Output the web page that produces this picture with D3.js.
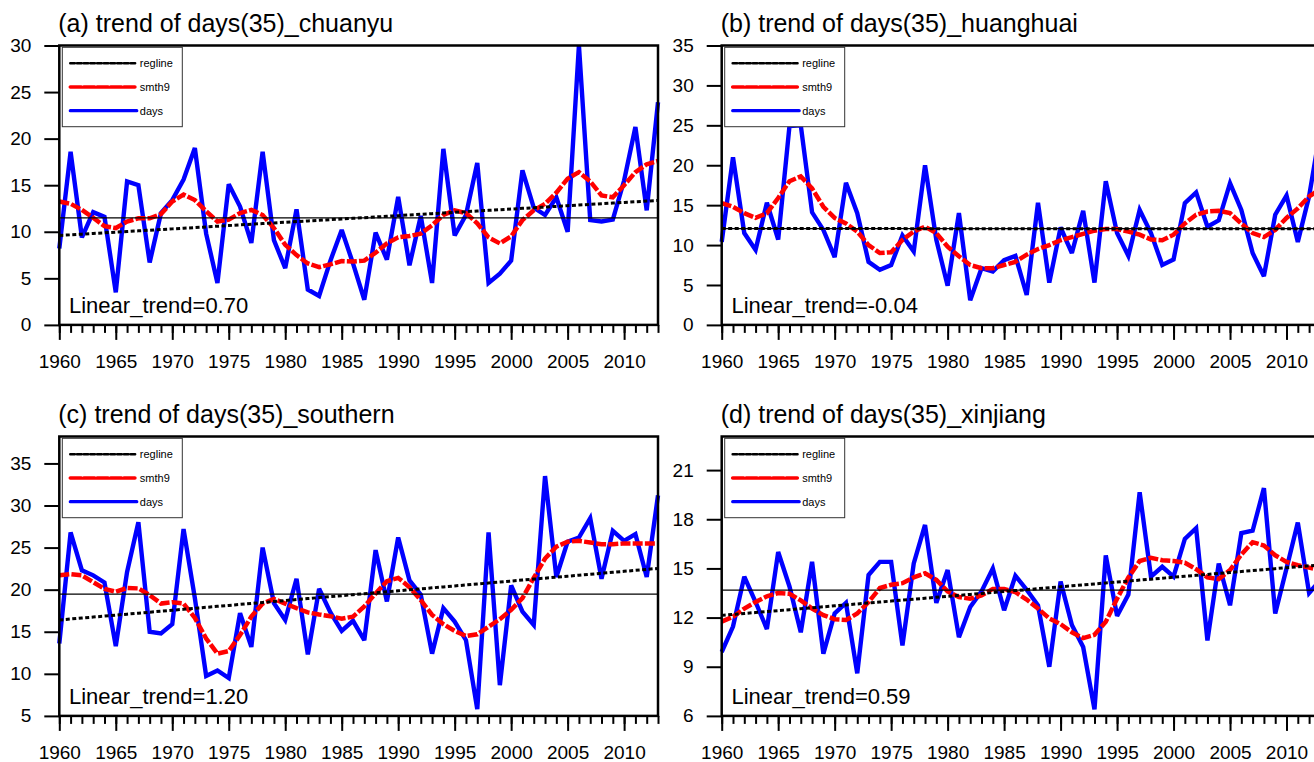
<!DOCTYPE html>
<html>
<head>
<meta charset="utf-8">
<script src="https://cdn.jsdelivr.net/npm/d3@7"></script>
<style>
  body { margin: 0; background: #fff; }
  svg { display: block; }
</style>
</head>
<body>
<div id="chart"></div>
<script>
// ---- data ----
const years = d3.range(1960, 2014);
const xTickLabels = [1960, 1965, 1970, 1975, 1980, 1985, 1990, 1995, 2000, 2005, 2010];

const daysA = [8.2, 18.6, 9.4, 12.1, 11.6, 3.5, 15.4, 15.0, 6.7, 12.0,
  13.4, 15.6, 19.0, 9.8, 4.5, 15.1, 12.7, 8.8, 18.6, 9.1,
  6.1, 12.4, 3.8, 3.1, 6.9, 10.2, 6.6, 2.7, 9.9, 7.0,
  13.75, 6.4, 11.7, 4.5, 18.9, 9.6, 11.8, 17.4, 4.5, 5.5,
  6.9, 16.6, 12.6, 11.8, 13.7, 10.0, 30.0, 11.25, 11.1, 11.3,
  15.5, 21.25, 12.3, 23.9];
const smthA = [13.25, 13.0, 12.35, 11.5, 10.6, 10.4, 11.1, 11.45, 11.45, 11.9,
  13.25, 14.0, 13.4, 12.2, 11.1, 11.3, 12.0, 12.35, 11.8, 10.4,
  8.6, 7.5, 6.6, 6.2, 6.5, 6.85, 6.8, 6.9, 7.75, 8.75,
  9.4, 9.55, 9.8, 10.7, 11.8, 12.3, 12.0, 10.9, 9.4, 8.75,
  9.5, 11.25, 12.3, 13.0, 14.2, 15.7, 16.4, 15.4, 13.9, 13.7,
  15.0, 16.4, 17.25, 17.6];

const daysB = [10.4, 21.0, 11.5, 9.4, 15.3, 10.7, 24.9, 25.0, 14.1, 11.9,
  8.5, 17.8, 14.0, 7.9, 6.9, 7.5, 11.2, 9.2, 20.0, 10.65,
  4.9, 14.0, 3.1, 7.1, 6.7, 8.1, 8.65, 3.75, 15.3, 5.3,
  12.2, 9.0, 14.3, 5.3, 18.0, 11.5, 8.65, 14.4, 11.5, 7.5,
  8.2, 15.25, 16.6, 12.3, 13.1, 17.75, 14.4, 9.0, 6.1, 13.8,
  16.2, 10.4, 16.1, 24.5];
const smthB = [15.25, 14.8, 14.0, 13.4, 14.0, 15.9, 18.0, 18.6, 17.1, 14.8,
  13.4, 12.7, 11.7, 10.0, 9.0, 9.1, 10.65, 11.7, 12.3, 11.5,
  9.8, 8.6, 7.5, 7.1, 7.1, 7.5, 7.9, 8.8, 9.5, 10.0,
  10.6, 11.0, 11.4, 11.8, 12.0, 12.0, 11.7, 11.3, 10.7, 10.6,
  11.3, 12.7, 13.8, 14.2, 14.3, 14.0, 12.7, 11.5, 11.0, 11.9,
  13.4, 14.6, 16.1, 17.0];

const daysC = [13.6, 26.8, 22.3, 21.7, 20.85, 13.3, 22.1, 28.0, 15.0, 14.8,
  15.9, 27.2, 19.0, 9.75, 10.4, 9.5, 17.2, 13.2, 25.0, 18.4,
  16.4, 21.3, 12.3, 20.1, 17.3, 15.1, 16.3, 14.0, 24.7, 18.6,
  26.2, 21.1, 19.4, 12.4, 17.8, 16.2, 14.0, 5.8, 26.8, 8.65,
  20.5, 17.4, 15.8, 33.5, 21.5, 25.7, 26.2, 28.5, 21.3, 27.0,
  25.8, 26.6, 21.5, 31.2];
const smthC = [21.7, 21.85, 21.7, 20.9, 20.1, 19.75, 20.2, 20.15, 19.35, 18.35,
  18.5, 18.35, 16.65, 14.2, 12.4, 12.7, 14.6, 16.8, 18.35, 18.9,
  18.35, 17.8, 17.3, 17.05, 16.85, 16.55, 16.8, 18.0, 19.55, 21.0,
  21.4, 20.3, 18.75, 17.0, 15.9, 15.1, 14.5, 14.7, 15.6, 16.5,
  17.6, 19.0, 21.4, 23.7, 25.1, 25.7, 25.8, 25.6, 25.4, 25.4,
  25.5, 25.5, 25.5, 25.5];

const daysD = [9.9, 11.45, 14.5, 12.95, 11.3, 16.0, 13.9, 11.1, 15.4, 9.8,
  12.25, 12.9, 8.6, 14.6, 15.4, 15.4, 10.3, 15.3, 17.65, 12.9,
  14.9, 10.8, 12.65, 13.6, 15.0, 12.45, 14.55, 13.7, 12.75, 9.0,
  14.2, 11.55, 10.2, 6.4, 15.8, 12.1, 13.4, 19.65, 14.5, 15.1,
  14.5, 16.8, 17.45, 10.6, 15.3, 12.75, 17.15, 17.3, 19.9, 12.25,
  15.0, 17.8, 13.5, 14.3];
const smthD = [11.75, 12.05, 12.55, 12.95, 13.3, 13.5, 13.45, 13.05, 12.55, 12.15,
  11.9, 11.85, 12.25, 12.95, 13.8, 14.0, 14.1, 14.45, 14.7, 14.3,
  13.6, 13.25, 13.15, 13.35, 13.75, 13.75, 13.55, 13.1, 12.55, 11.95,
  11.6, 11.1, 10.75, 10.95, 11.75, 13.15, 14.45, 15.45, 15.65, 15.5,
  15.45, 15.35, 14.95, 14.45, 14.35, 14.9, 15.85, 16.6, 16.4, 15.8,
  15.4, 15.2, 15.05, 14.9];

const titles = ["(a) trend of days(35)_chuanyu", "(b) trend of days(35)_huanghuai",
                "(c) trend of days(35)_southern", "(d) trend of days(35)_xinjiang"];
const trendLabels = ["Linear_trend=0.70", "Linear_trend=-0.04", "Linear_trend=1.20", "Linear_trend=0.59"];
const yTicksA = [0, 5, 10, 15, 20, 25, 30];
const yTicksB = [0, 5, 10, 15, 20, 25, 30, 35];
const yTicksC = [5, 10, 15, 20, 25, 30, 35];
const yTicksD = [6, 9, 12, 15, 18, 21];
const legendNames = ["regline", "smth9", "days"];

// ---- layout ----
const width = 1314, height = 762;
const plotW = 598.7, plotH = 279.4;
const font = "'Liberation Sans', Arial, Helvetica, sans-serif";

const panels = [
  { days: daysA, smth: smthA, yDomain: [0, 30], yTicks: yTicksA, left: 59.3, top: 45.5 },
  { days: daysB, smth: smthB, yDomain: [0, 35], yTicks: yTicksB, left: 721.7, top: 45.5 },
  { days: daysC, smth: smthC, yDomain: [5, 38.2], yTicks: yTicksC, left: 59.3, top: 436.5 },
  { days: daysD, smth: smthD, yDomain: [6, 23.05], yTicks: yTicksD, left: 721.7, top: 436.5 }
];

let svg = d3.select("#chart")
  .append("svg")
  .attr("width", width)
  .attr("height", height)
  .style("font-family", font);

svg.append("rect").attr("width", width).attr("height", height).attr("fill", "#fff");

// least squares line over the years
function regline(vals) {
  const xm = d3.mean(years), ym = d3.mean(vals);
  const b = d3.sum(years, (t, i) => (t - xm) * (vals[i] - ym)) / d3.sum(years, t => (t - xm) ** 2);
  return years.map(t => ym + b * (t - xm));
}

panels.forEach((p, k) => {
  const x = d3.scaleLinear().domain([1960, 2013]).range([p.left, p.left + plotW]);
  const y = d3.scaleLinear().domain(p.yDomain).range([p.top + plotH, p.top]);
  const g = svg.append("g");
  const bottom = p.top + plotH;

  // minor year ticks
  g.append("g")
    .attr("transform", `translate(0,${bottom})`)
    .call(d3.axisBottom(x).tickValues(years).tickSize(8).tickFormat(""))
    .call(a => a.select(".domain").remove())
    .call(a => a.selectAll("line").attr("stroke-width", 2));

  // major ticks with labels
  g.append("g")
    .attr("transform", `translate(0,${bottom})`)
    .call(d3.axisBottom(x).tickValues(xTickLabels).tickSize(15).tickPadding(15).tickFormat(d3.format("d")))
    .call(a => a.select(".domain").remove())
    .call(a => a.selectAll("line").attr("stroke-width", 2))
    .call(a => a.selectAll("text").attr("font-size", 19).attr("font-family", font).attr("fill", "#000"));

  g.append("g")
    .attr("transform", `translate(${p.left},0)`)
    .call(d3.axisLeft(y).tickValues(p.yTicks).tickSize(15).tickPadding(13))
    .call(a => a.select(".domain").remove())
    .call(a => a.selectAll("line").attr("stroke-width", 2))
    .call(a => a.selectAll("text").attr("font-size", 19).attr("font-family", font).attr("fill", "#000"));

  const line = d3.line().x((d, i) => x(years[i])).y(d => y(d));

  // days
  g.append("path")
    .datum(p.days)
    .attr("d", line)
    .attr("fill", "none")
    .attr("stroke", "#0000ff")
    .attr("stroke-width", 4.4)
    .attr("stroke-linejoin", "miter")
    .attr("stroke-miterlimit", 3);

  // smth9
  g.append("path")
    .datum(p.smth)
    .attr("d", line)
    .attr("fill", "none")
    .attr("stroke", "#ff0000")
    .attr("stroke-width", 4.5)
    .attr("stroke-dasharray", "10,2.2");

  // regline
  g.append("path")
    .datum(regline(p.days))
    .attr("d", line)
    .attr("fill", "none")
    .attr("stroke", "#000")
    .attr("stroke-width", 3)
    .attr("stroke-dasharray", "4,2.5");

  // mean line
  const m = d3.mean(p.days);
  g.append("line")
    .attr("x1", x(1960)).attr("x2", x(2013))
    .attr("y1", y(m)).attr("y2", y(m))
    .attr("stroke", "#000")
    .attr("stroke-width", 1.2);

  // frame
  g.append("rect")
    .attr("x", p.left).attr("y", p.top)
    .attr("width", plotW).attr("height", plotH)
    .attr("fill", "none")
    .attr("stroke", "#000")
    .attr("stroke-width", 2.5);

  // legend
  const lg = g.append("g").attr("transform", `translate(${p.left + 3},${p.top + 1.8})`);
  lg.append("rect")
    .attr("width", 120).attr("height", 79.4)
    .attr("fill", "#fff")
    .attr("stroke", "#333")
    .attr("stroke-width", 1);
  const legStyle = [
    { color: "#000", w: 2.6, dash: "4.5,2.2" },
    { color: "#ff0000", w: 3.6, dash: "11,2.4" },
    { color: "#0000ff", w: 3.2, dash: null }
  ];
  legendNames.forEach((name, i) => {
    const ly = 16 + i * 23.7;
    lg.append("line")
      .attr("x1", 8).attr("x2", 74.5)
      .attr("y1", ly).attr("y2", ly)
      .attr("stroke", legStyle[i].color)
      .attr("stroke-width", legStyle[i].w)
      .attr("stroke-dasharray", legStyle[i].dash)
      .attr("stroke-linecap", "round");
    lg.append("text")
      .attr("x", 77.5).attr("y", ly)
      .attr("dy", "0.35em")
      .attr("font-size", 11)
      .text(name);
  });

  // title
  g.append("text")
    .attr("x", p.left - 1)
    .attr("y", p.top - 13.5)
    .attr("font-size", 25)
    .text(titles[k]);

  // trend text
  g.append("text")
    .attr("x", p.left + 9.7)
    .attr("y", bottom - 12)
    .attr("font-size", 22)
    .text(trendLabels[k]);
});
</script>
</body>
</html>
